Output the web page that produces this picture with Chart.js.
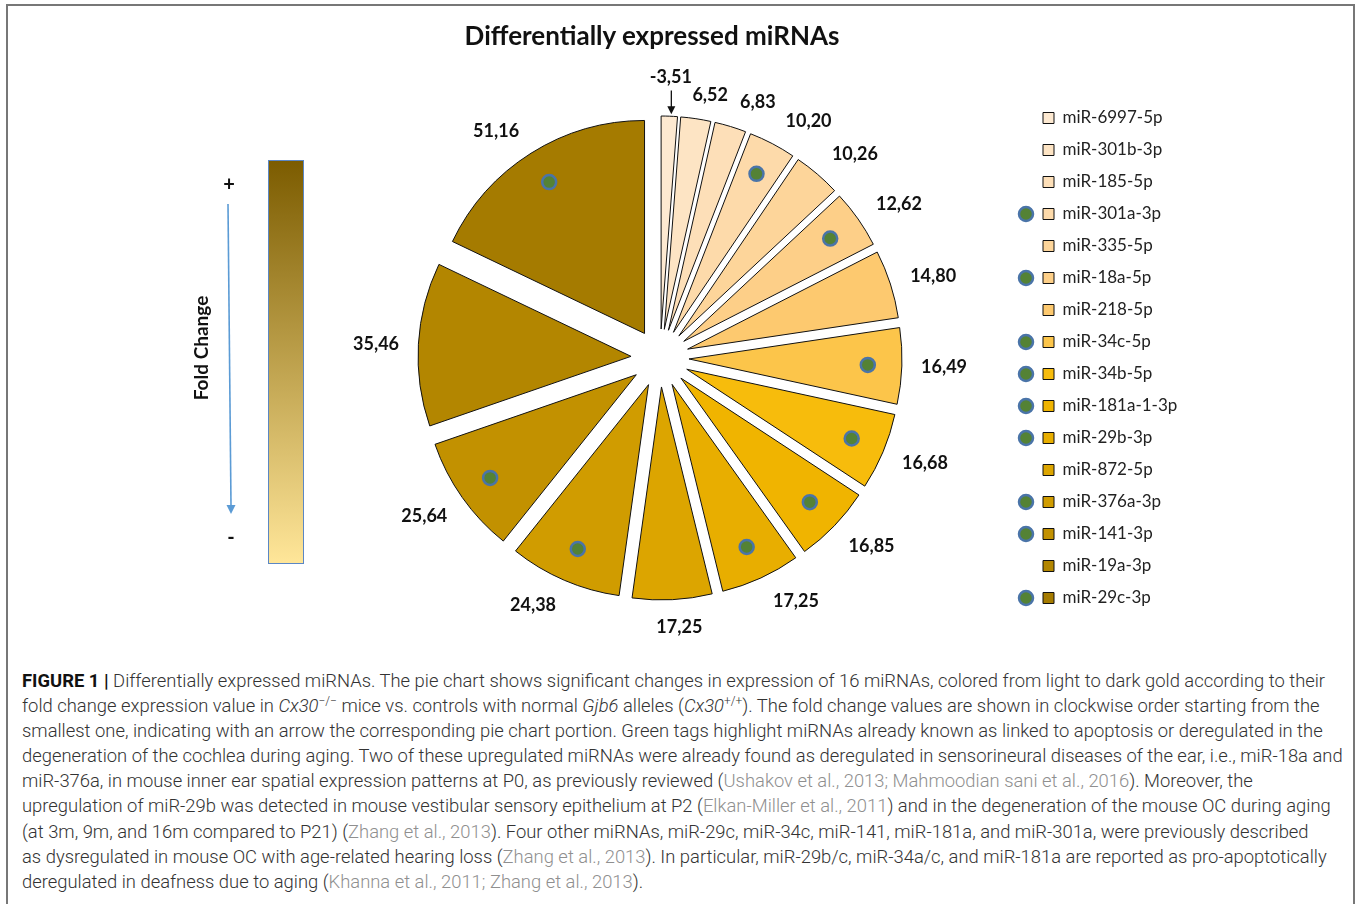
<!DOCTYPE html>
<html lang="en">
<head>
  <meta charset="UTF-8">
  <title>Differentially expressed miRNAs</title>
  <script src="https://cdn.jsdelivr.net/npm/chart.js"></script>
  <style>
    html, body { margin: 0; padding: 0; background: #fff; overflow: hidden; }
    .frame {
      position: absolute; left: 6px; top: 4px; width: 1345px; height: 1000px;
      border: 2px solid #777; border-bottom: none;
    }
    #pieChart { position: absolute; left: 0; top: 0; }
    .title {
      position: absolute; left: 402px; top: 19px; width: 500px;
      text-align: center; font: bold 26px Lato, sans-serif; line-height: 32px; color: #111;
    }
    /* fold change scale on the left */
    .scale {
      position: absolute; left: 268px; top: 160px; width: 34px; height: 402px;
      border: 1px solid #5b87c5;
      background: linear-gradient(to bottom, #7c5c00, #ffe699);
    }
    .sign { position: absolute; font: bold 20px Lato, sans-serif; color: #111; width: 20px; text-align: center; line-height: 20px; }
    .fc-label {
      position: absolute; left: 141px; top: 336px; width: 120px; text-align: center;
      font: bold 19px Lato, sans-serif; line-height: 24px; color: #111;
      transform: rotate(-90deg);
    }
    .fc-arrow { position: absolute; left: 0; top: 0; }
    /* caption */
    .caption {
      position: absolute; left: 22px; top: 668px;
      font: 300 18.4px Roboto, sans-serif; line-height: 25.1px; color: #333;
    }
    .caption div { white-space: nowrap; }
    .caption b { color: #111; font-weight: bold; }
    .caption .ref { color: #8f8f8f; }
    .caption sup { font-size: 12px; line-height: 0; vertical-align: 7px; }
  </style>
</head>
<body>
  <div class="frame"></div>
  <canvas id="pieChart" width="1357" height="660"></canvas>
  <div class="title">Differentially expressed miRNAs</div>

  <!-- Fold change colour scale -->
  <div class="scale"></div>
  <div class="sign" style="left:219px; top:173px;">+</div>
  <div class="sign" style="left:221px; top:526px;">-</div>
  <div class="fc-label">Fold Change</div>
  <svg class="fc-arrow" width="300" height="560">
    <line x1="228" y1="204" x2="231" y2="506" stroke="#5b9bd5" stroke-width="1.6"/>
    <polygon points="226.5,505 235.5,505 231,514" fill="#5b9bd5"/>
  </svg>

  <div class="caption">
    <div><b>FIGURE 1 |</b> Differentially expressed miRNAs. The pie chart shows significant changes in expression of 16 miRNAs, colored from light to dark gold according to their</div>
    <div>fold change expression value in <i>Cx30</i><sup>−/−</sup> mice vs. controls with normal <i>Gjb6</i> alleles (<i>Cx30</i><sup>+/+</sup>). The fold change values are shown in clockwise order starting from the</div>
    <div>smallest one, indicating with an arrow the corresponding pie chart portion. Green tags highlight miRNAs already known as linked to apoptosis or deregulated in the</div>
    <div>degeneration of the cochlea during aging. Two of these upregulated miRNAs were already found as deregulated in sensorineural diseases of the ear, i.e., miR-18a and</div>
    <div>miR-376a, in mouse inner ear spatial expression patterns at P0, as previously reviewed (<span class="ref">Ushakov et al., 2013; Mahmoodian sani et al., 2016</span>). Moreover, the</div>
    <div>upregulation of miR-29b was detected in mouse vestibular sensory epithelium at P2 (<span class="ref">Elkan-Miller et al., 2011</span>) and in the degeneration of the mouse OC during aging</div>
    <div>(at 3m, 9m, and 16m compared to P21) (<span class="ref">Zhang et al., 2013</span>). Four other miRNAs, miR-29c, miR-34c, miR-141, miR-181a, and miR-301a, were previously described</div>
    <div>as dysregulated in mouse OC with age-related hearing loss (<span class="ref">Zhang et al., 2013</span>). In particular, miR-29b/c, miR-34a/c, and miR-181a are reported as pro-apoptotically</div>
    <div>deregulated in deafness due to aging (<span class="ref">Khanna et al., 2011; Zhang et al., 2013</span>).</div>
  </div>

  <script>
    // Data, clockwise from the smallest fold change
    const mirnas = ["miR-6997-5p", "miR-301b-3p", "miR-185-5p", "miR-301a-3p", "miR-335-5p",
                    "miR-18a-5p", "miR-218-5p", "miR-34c-5p", "miR-34b-5p", "miR-181a-1-3p",
                    "miR-29b-3p", "miR-872-5p", "miR-376a-3p", "miR-141-3p", "miR-19a-3p", "miR-29c-3p"];
    const foldChange = [-3.51, 6.52, 6.83, 10.20, 10.26, 12.62, 14.80, 16.49, 16.68, 16.85,
                        17.25, 17.25, 24.38, 25.64, 35.46, 51.16];
    // green tags: miRNAs linked to apoptosis / cochlear degeneration
    const greenTag = [false, false, false, true, false, true, false, true, true, true,
                      true, false, true, true, false, true];

    const goldShades = ["#fde9d1", "#fde4c4", "#fddfb8", "#fddaaa", "#fdd59a", "#fdcf88",
                        "#fdc96f", "#fcc54a", "#f7bc0c", "#f0b400", "#e8ae00", "#dca500",
                        "#d09c00", "#c29100", "#b38600", "#a57b00"];

    const explode = 29;      // how far every slice is pulled out, px
    // small nudges for the value labels: [degrees, px]
    const labelNudge = [[0, 12], [2.3, -4], [4, 0], [4.5, 0], [3.2, 0], [2.3, 0], [1.2, 0], [0, 0],
                        [-1.2, 0], [-2.3, 0], [-4.6, 0], [-1.2, 0], [3.9, 0], [1.3, 0], [-0.4, 0], [-3.6, 0]];

    function fmt(v) { return v.toFixed(2).replace('.', ','); }

    function drawTag(ctx, x, y) {
      ctx.beginPath();
      ctx.arc(x, y, 7, 0, Math.PI * 2);
      ctx.fillStyle = '#548235';
      ctx.fill();
      ctx.lineWidth = 2.5;
      ctx.strokeStyle = '#4a74a8';
      ctx.stroke();
    }

    // pull every slice out along its bisector (exploded pie)
    const explodePlugin = {
      id: 'explodePlugin',
      afterDatasetUpdate(chart, args) {
        args.meta.data.forEach(arc => {
          const mid = (arc.startAngle + arc.endAngle) / 2;
          arc.x += Math.cos(mid) * explode;
          arc.y += Math.sin(mid) * explode;
        });
      }
    };

    // values outside the slices + green tags inside them
    const valueLabels = {
      id: 'valueLabels',
      afterDatasetsDraw(chart) {
        const ctx = chart.ctx;
        const arcs = chart.getDatasetMeta(0).data;
        ctx.save();
        arcs.forEach((arc, i) => {
          const mid = (arc.startAngle + arc.endAngle) / 2;
          if (greenTag[i]) {
            const r = arc.outerRadius * 0.84;
            drawTag(ctx, arc.x + Math.cos(mid) * r, arc.y + Math.sin(mid) * r);
          }
          const cx = arc.x - Math.cos(mid) * explode;
          const cy = arc.y - Math.sin(mid) * explode;
          const text = fmt(foldChange[i]);
          ctx.font = 'bold 18px Lato';
          const w = ctx.measureText(text).width;
          const a = mid + labelNudge[i][0] * Math.PI / 180;
          const dx = Math.cos(a), dy = Math.sin(a);
          const d = arc.outerRadius + explode + 19 + labelNudge[i][1] + Math.abs(dx) * w / 2 + Math.abs(dy) * 7;
          const lx = cx + dx * d, ly = cy + dy * d;
          ctx.fillStyle = '#111';
          ctx.textAlign = 'center';
          ctx.textBaseline = 'middle';
          ctx.fillText(text, lx, ly);

          if (foldChange[i] < 0) {
            // arrow pointing at the tiny slice
            const ox = arc.x + Math.cos(mid) * arc.outerRadius + 2;
            const oy = arc.y + Math.sin(mid) * arc.outerRadius - 2;
            ctx.strokeStyle = '#111';
            ctx.lineWidth = 1.3;
            ctx.beginPath();
            ctx.moveTo(ox, ly + 13);
            ctx.lineTo(ox, oy - 6);
            ctx.stroke();
            ctx.beginPath();
            ctx.moveTo(ox - 4, oy - 8);
            ctx.lineTo(ox + 4, oy - 8);
            ctx.lineTo(ox, oy);
            ctx.closePath();
            ctx.fillStyle = '#111';
            ctx.fill();
          }
        });
        ctx.restore();
      }
    };

    // green tags next to the legend entries
    const legendTags = {
      id: 'legendTags',
      afterDraw(chart) {
        const ctx = chart.ctx;
        ctx.save();
        chart.legend.legendHitBoxes.forEach((hb, i) => {
          if (greenTag[i]) drawTag(ctx, hb.left - 17, hb.top + hb.height / 2);
        });
        ctx.restore();
      }
    };

    Chart.defaults.font.family = 'Lato';

    // legend width, so the pie ends up centred where it should
    const legendFont = 17, legendBox = 11, legendPad = 15;
    const mctx = document.createElement('canvas').getContext('2d');
    mctx.font = 'normal ' + legendFont + 'px Lato';
    const longest = Math.max(...mirnas.map(t => mctx.measureText(t).width));
    const legendWidth = legendPad + legendBox + legendFont / 2 + longest + 10;
    const chartRight = 1028;

    new Chart(document.getElementById('pieChart'), {
      type: 'pie',
      data: {
        labels: mirnas,
        datasets: [{
          data: foldChange.map(v => Math.abs(v)),
          backgroundColor: goldShades,
          borderColor: '#111',
          borderWidth: 1,
          borderJoinStyle: 'miter',
          radius: 213
        }]
      },
      options: {
        responsive: false,
        animation: false,
        events: [],
        layout: { padding: { left: 292, right: 1357 - chartRight - legendWidth, top: 93.5, bottom: 37.5 } },
        plugins: {
          title: { display: false },
          tooltip: { enabled: false },
          legend: {
            position: 'right',
            align: 'center',
            labels: {
              boxWidth: legendBox,
              boxHeight: legendBox,
              padding: legendPad,
              color: '#222',
              font: { size: legendFont }
            }
          }
        }
      },
      plugins: [explodePlugin, valueLabels, legendTags]
    });
  </script>
</body>
</html>
